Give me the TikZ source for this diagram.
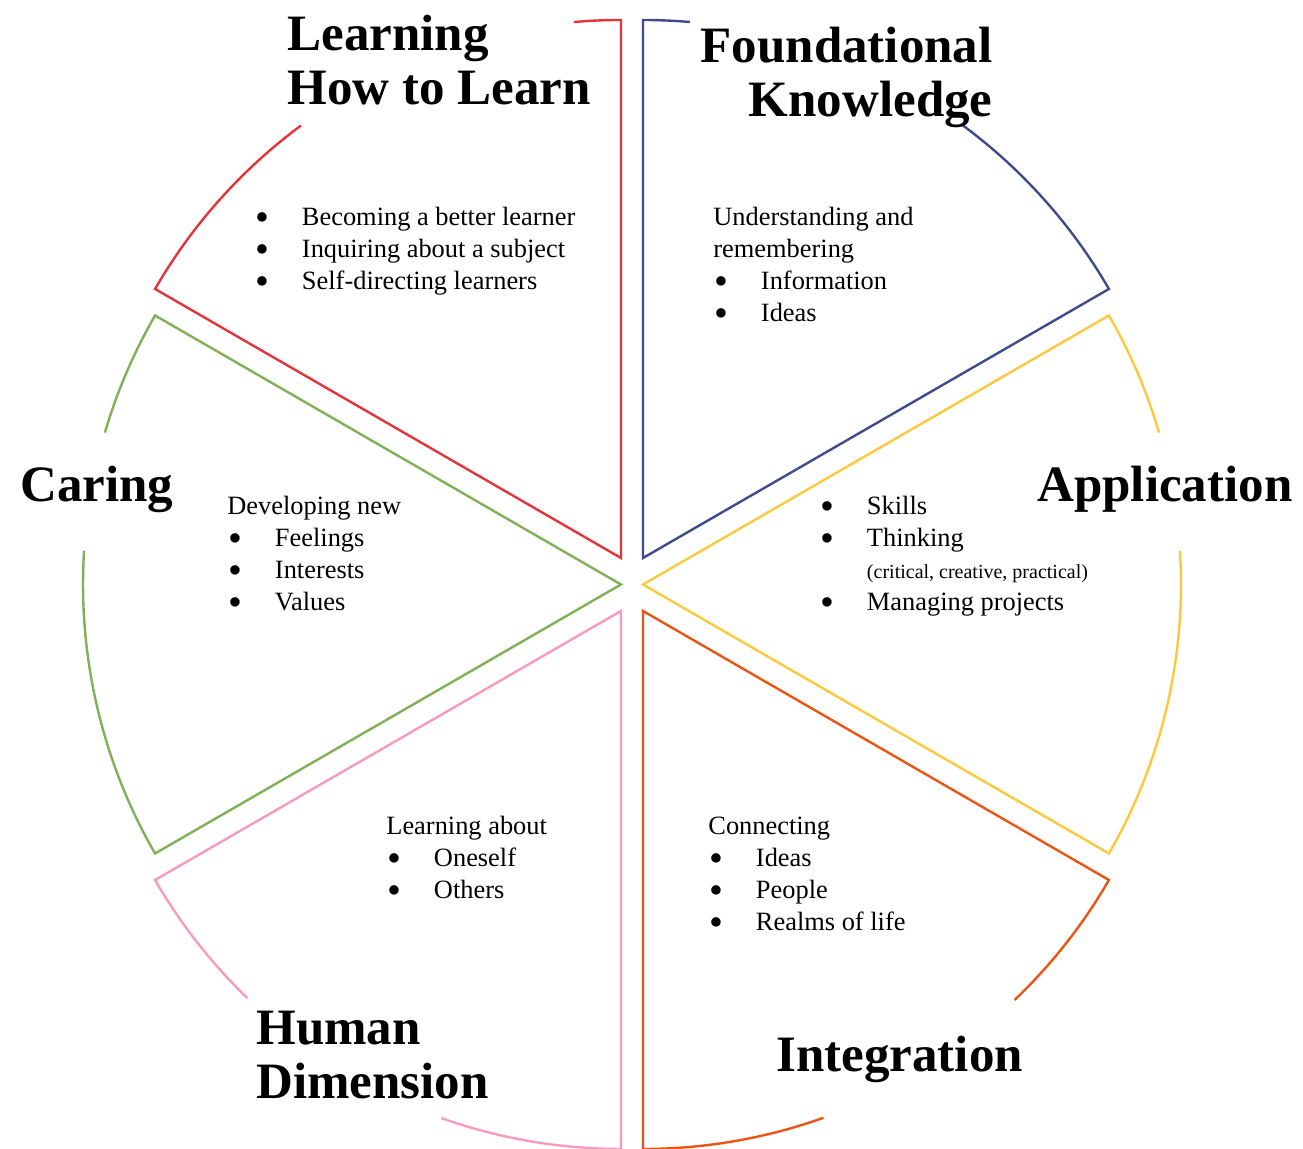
\documentclass[tikz,border=0pt]{standalone}
\usepackage{fontspec}
\setmainfont{Liberation Serif}
\usepackage{tikz}

\definecolor{lhlred}{RGB}{228,52,58}
\definecolor{fkblue}{RGB}{62,76,140}
\definecolor{appyellow}{RGB}{252,200,60}
\definecolor{cargreen}{RGB}{128,176,88}
\definecolor{hdpink}{RGB}{247,155,190}
\definecolor{intorange}{RGB}{234,85,20}

\newcommand{\bul}{\hspace*{0.3pt}\makebox[7pt]{\raisebox{-2.2pt}{\scalebox{1.5}{\textbullet}}}\hspace*{16.5pt}}

\begin{document}
\begin{tikzpicture}[x=0.5pt,y=0.5pt,
  wedge/.style={line width=1.2pt,line join=miter},
  title/.style={inner sep=0pt,font=\fontsize{25.5}{27}\selectfont\bfseries},
  body/.style={inner sep=0pt,font=\fontsize{13.2}{16}\selectfont}]
\useasboundingbox (-632,-564.5) rectangle (671,584.5);

% apex of each wedge, pulled apart from the centre
\coordinate (lhl) at (-11,26.5);
\coordinate (fk) at (11,26.5);
\coordinate (app) at (11,0);
\coordinate (car) at (-11,0);
\coordinate (hd) at (-11,-26.5);
\coordinate (int) at (11,-26.5);

% wedges, the arc is left open where the title sits
\draw[wedge,lhlred] (lhl) ++(126.5:538) arc[start angle=126.5,end angle=150,radius=538] -- (lhl) -- ++(90:538) arc[start angle=90,end angle=95,radius=538];
\draw[wedge,fkblue] (fk) ++(53.5:538) arc[start angle=53.5,end angle=30,radius=538] -- (fk) -- ++(90:538) arc[start angle=90,end angle=85,radius=538];
\draw[wedge,appyellow] (app) ++(3.6:538) arc[start angle=3.6,end angle=-30,radius=538] -- (app) -- ++(30:538) arc[start angle=30,end angle=16.4,radius=538];
\draw[wedge,cargreen] (car) ++(176.4:538) arc[start angle=176.4,end angle=210,radius=538] -- (car) -- ++(150:538) arc[start angle=150,end angle=163.6,radius=538];
\draw[wedge,hdpink] (hd) ++(250.5:538) arc[start angle=250.5,end angle=270,radius=538] -- (hd) -- ++(210:538) arc[start angle=210,end angle=226,radius=538];
\draw[wedge,intorange] (int) ++(289.6:538) arc[start angle=289.6,end angle=270,radius=538] -- (int) -- ++(330:538) arc[start angle=330,end angle=313.7,radius=538];

% titles
\node[title,anchor=base west] (tlhl) at (-345,533.5) {\begin{tabular}[t]{@{}l@{}}Learning\\How to Learn\end{tabular}};
\node[title,anchor=base east] (tfk) at (361,521.5) {\begin{tabular}[t]{@{}r@{}}Foundational\\Knowledge\end{tabular}};
\node[title,anchor=base west] (tapp) at (405,82.5) {Application};
\node[title,anchor=base west] (tcar) at (-612,82.5) {Caring};
\node[title,anchor=base west] (thd) at (-376,-460.5) {\begin{tabular}[t]{@{}l@{}}Human\\Dimension\end{tabular}};
\node[title,anchor=base west] (tint) at (144,-487.5) {Integration};

% what each wedge is about
\node[body,anchor=base west] (blhl) at (-378,358.5) {\begin{tabular}[t]{@{}l@{}}\bul Becoming a better learner\\ \bul Inquiring about a subject\\ \bul Self-directing learners\end{tabular}};
\node[body,anchor=base west] (bfk) at (81,358.5) {\begin{tabular}[t]{@{}l@{}}Understanding and\\remembering\\ \bul Information\\ \bul Ideas\end{tabular}};
\node[body,anchor=base west] (bapp) at (187,69.5) {\begin{tabular}[t]{@{}l@{}}\bul Skills\\ \bul Thinking\\ \hspace*{23.8pt}{\fontsize{10}{12}\selectfont (critical, creative, practical)}\\ \bul Managing projects\end{tabular}};
\node[body,anchor=base west] (bcar) at (-405,69.5) {\begin{tabular}[t]{@{}l@{}}Developing new\\ \bul Feelings\\ \bul Interests\\ \bul Values\end{tabular}};
\node[body,anchor=base west] (bhd) at (-246,-250.5) {\begin{tabular}[t]{@{}l@{}}Learning about\\ \bul Oneself\\ \bul Others\end{tabular}};
\node[body,anchor=base west] (bint) at (76,-250.5) {\begin{tabular}[t]{@{}l@{}}Connecting\\ \bul Ideas\\ \bul People\\ \bul Realms of life\end{tabular}};
\end{tikzpicture}
\end{document}
